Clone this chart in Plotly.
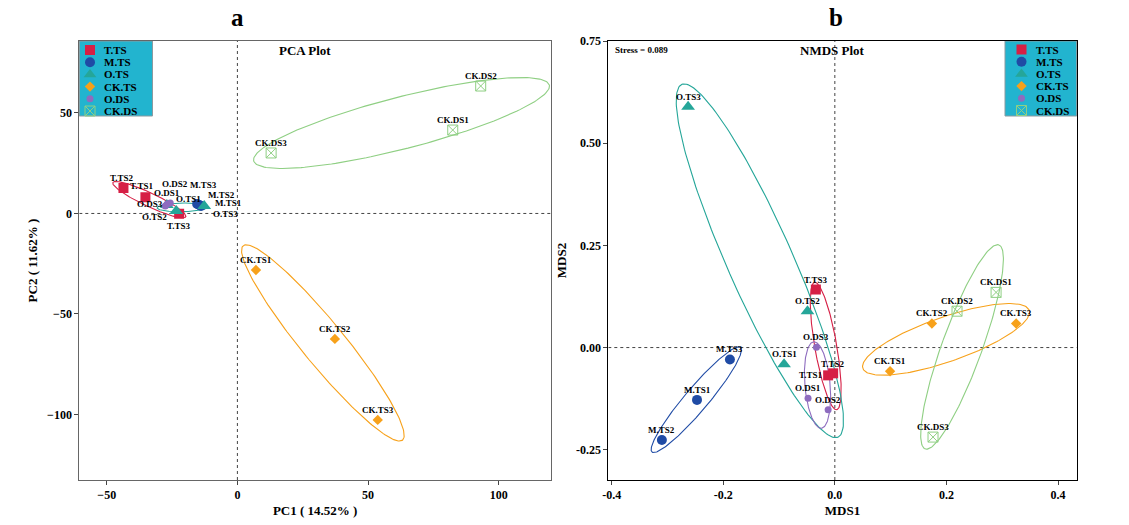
import numpy as np
import plotly.graph_objects as go

# ---------------- data ----------------
groups = ["T.TS", "M.TS", "O.TS", "CK.TS", "O.DS", "CK.DS"]

sample_labels = {
    "T.TS": ["T.TS1", "T.TS2", "T.TS3"],
    "M.TS": ["M.TS1", "M.TS2", "M.TS3"],
    "O.TS": ["O.TS1", "O.TS2", "O.TS3"],
    "CK.TS": ["CK.TS1", "CK.TS2", "CK.TS3"],
    "O.DS": ["O.DS1", "O.DS2", "O.DS3"],
    "CK.DS": ["CK.DS1", "CK.DS2", "CK.DS3"],
}
# PCA (panel a)
pca_x = {
    "T.TS": [-35.2, -43.6, -22.3],
    "M.TS": [-13.9, -14.6, -15.4],
    "O.TS": [-27.0, -23.4, -12.7],
    "CK.TS": [7.1, 37.3, 53.7],
    "O.DS": [-26.8, -25.7, -27.6],
    "CK.DS": [82.4, 93.1, 12.9],
}
pca_y = {
    "T.TS": [8.1, 12.7, -0.2],
    "M.TS": [3.7, 4.2, 4.7],
    "O.TS": [4.2, 1.2, 3.7],
    "CK.TS": [-28.1, -62.4, -102.7],
    "O.DS": [4.7, 5.2, 3.7],
    "CK.DS": [41.5, 63.4, 30.1],
}
# NMDS (panel b)
nmds_x = {
    "T.TS": [-0.012, -0.003, -0.034],
    "M.TS": [-0.247, -0.310, -0.188],
    "O.TS": [-0.091, -0.049, -0.263],
    "CK.TS": [0.099, 0.174, 0.325],
    "O.DS": [-0.048, -0.012, -0.033],
    "CK.DS": [0.289, 0.219, 0.176],
}
nmds_y = {
    "T.TS": [-0.068, -0.063, 0.142],
    "M.TS": [-0.128, -0.226, -0.029],
    "O.TS": [-0.041, 0.089, 0.589],
    "CK.TS": [-0.058, 0.059, 0.059],
    "O.DS": [-0.124, -0.152, 0.001],
    "CK.DS": [0.135, 0.089, -0.219],
}
stress_text = "Stress = 0.089"
pca_xtitle = "PC1 ( 14.52% )"
pca_ytitle = "PC2 ( 11.62% )"
pca_xticks = [-50, 0, 50, 100]
pca_yticks = [-100, -50, 0, 50]
nmds_xticks = [-0.4, -0.2, 0.0, 0.2, 0.4]
nmds_xticktext = ["-0.4", "-0.2", "0.0", "0.2", "0.4"]
nmds_yticks = [-0.25, 0.0, 0.25, 0.5, 0.75]
nmds_yticktext = ["-0.25", "0.00", "0.25", "0.50", "0.75"]

# ---------------- style ----------------
colors = {"T.TS": "#D61F45", "M.TS": "#1F4BA5", "O.TS": "#25A699",
          "CK.TS": "#F7A11A", "O.DS": "#8E6CBF", "CK.DS": "#8FCF83"}
symbols = {"T.TS": "square", "M.TS": "circle", "O.TS": "triangle-up",
           "CK.TS": "diamond", "O.DS": "circle", "CK.DS": "square-x-open"}
sizes = {"T.TS": 10, "M.TS": 10, "O.TS": 12, "CK.TS": 8, "O.DS": 7, "CK.DS": 10}
leg_sizes = {"T.TS": 10, "M.TS": 10, "O.TS": 11, "CK.TS": 8, "O.DS": 7, "CK.DS": 10}
FONT = "Liberation Serif"
W, H = 1129, 525


def fx(p):  # window pixel x -> paper fraction
    return p / W


def fy(p):  # window pixel y -> paper fraction
    return 1 - p / H


# label pixel offsets (dx, dy) for crowded labels; default (0, 10)
pca_off = {
    "T.TS2": (-1, 10), "T.TS1": (-3, 11), "T.TS3": (0, -12),
    "O.DS2": (5, 19), "O.DS1": (0, 11), "O.DS3": (-15, 2),
    "O.TS2": (-22, -6), "O.TS1": (22, 6), "O.TS3": (21, -8),
    "M.TS3": (6, 19), "M.TS2": (22, 10), "M.TS1": (27, 3),
}
nmds_off = {"T.TS1": (-17, 0), "T.TS2": (0, 9)}

# plot areas in window pixels
area_a = (79.3, 41, 551, 480)
area_b = (608.3, 41, 1076.7, 480)
rng_ax = [-60.5, 120]
rng_ay = [-132.6, 85.8]
rng_bx = [-0.406, 0.4335]
rng_by = [-0.324, 0.75]

# legend layout (window pixels): x0, y0, x1, y1, marker x, text x, first row y, row step
legend_boxes = [
    (79.3, 41, 152.5, 116, 90, 102, 50, 12.2),
    (1005, 41, 1076.7, 116, 1021.5, 1034, 49.5, 12.2),
]


def ellipse(x, y, sx, sy, k=1.3, minfrac=0.17):
    X = np.asarray(x) * sx
    Y = np.asarray(y) * sy
    c = np.cov(np.vstack([X, Y]))
    vals, vecs = np.linalg.eigh(c)
    r = k * np.sqrt(np.clip(vals, 0, None))
    r[0] = max(r[0], minfrac * r[1])
    t = np.linspace(0, 2 * np.pi, 200)
    pts = vecs @ np.vstack([r[0] * np.cos(t), r[1] * np.sin(t)])
    ex = (pts[0] + X.mean()) / sx
    ey = (pts[1] + Y.mean()) / sy
    return ex, ey


fig = go.Figure()
annots = []
shapes = []

panels = [
    ("x", "y", pca_x, pca_y, rng_ax, rng_ay, area_a, pca_off),
    ("x2", "y2", nmds_x, nmds_y, rng_bx, rng_by, area_b, nmds_off),
]
for xa, ya, DX, DY, rx, ry, area, offs in panels:
    sx = (area[2] - area[0]) / (rx[1] - rx[0])
    sy = (area[3] - area[1]) / (ry[1] - ry[0])
    for g in groups:
        ex, ey = ellipse(DX[g], DY[g], sx, sy)
        fig.add_trace(go.Scatter(x=ex, y=ey, mode="lines", xaxis=xa, yaxis=ya,
                                 line=dict(color=colors[g], width=1.1),
                                 showlegend=False, hoverinfo="skip"))
    for g in groups:
        fig.add_trace(go.Scatter(x=DX[g], y=DY[g], mode="markers", xaxis=xa, yaxis=ya,
                                 marker=dict(color=colors[g], symbol=symbols[g], size=sizes[g],
                                             line=dict(width=1 if g == "CK.DS" else 0,
                                                       color=colors[g])),
                                 showlegend=False, text=sample_labels[g]))
        for lab, px, py in zip(sample_labels[g], DX[g], DY[g]):
            ox, oy = offs.get(lab, (0, 10))
            annots.append(dict(x=px, y=py, xref=xa, yref=ya, text=lab, showarrow=False,
                               xshift=ox, yshift=oy, xanchor="center", yanchor="middle",
                               font=dict(family=FONT, size=9, color="black", weight="bold")))
    # dotted zero lines
    shapes.append(dict(type="line", xref=xa, yref=ya, x0=0, x1=0, y0=ry[0], y1=ry[1],
                       line=dict(color="#444", width=1, dash="dot"), layer="below"))
    shapes.append(dict(type="line", xref=xa, yref=ya, x0=rx[0], x1=rx[1], y0=0, y1=0,
                       line=dict(color="#444", width=1, dash="dot"), layer="below"))

# manual legends drawn on a full-figure overlay axis in window pixels
for (x0, y0, x1, y1, mx, tx, ry0, step) in legend_boxes:
    shapes.append(dict(type="rect", xref="paper", yref="paper", x0=fx(x0), x1=fx(x1),
                       y0=fy(y0), y1=fy(y1), fillcolor="#22B4CF",
                       line=dict(color="#8a9aa0", width=1), layer="below"))
    for i, g in enumerate(groups):
        yy = ry0 + i * step
        fig.add_trace(go.Scatter(x=[mx], y=[yy], mode="markers", xaxis="x3", yaxis="y3",
                                 marker=dict(color=colors[g], symbol=symbols[g], size=leg_sizes[g],
                                             line=dict(width=1 if g == "CK.DS" else 0,
                                                       color=colors[g])),
                                 showlegend=False, hoverinfo="skip"))
        annots.append(dict(x=tx, y=yy, xref="x3", yref="y3", text=g, showarrow=False,
                           xanchor="left", yanchor="middle",
                           font=dict(family=FONT, size=11, color="black", weight="bold")))


def ptext(x, y, text, size, xanchor="center"):
    return dict(x=fx(x), y=fy(y), xref="paper", yref="paper", text=text, showarrow=False,
                xanchor=xanchor, yanchor="middle",
                font=dict(family=FONT, size=size, color="black", weight="bold"))


annots += [
    ptext(237, 17, "a", 25),
    ptext(836, 17, "b", 25),
    ptext(305, 50, "PCA Plot", 13),
    ptext(832, 50, "NMDS Plot", 13),
    ptext(613, 50, stress_text, 9, xanchor="left"),
]

tf = dict(family=FONT, size=12, color="black", weight="bold")
axcommon = dict(showgrid=False, zeroline=False, ticks="outside", ticklen=4, mirror=True,
                showline=True, tickfont=tf, automargin=False,
                title_font=dict(family=FONT, size=13, color="black", weight="bold"))

fig.update_layout(
    width=W, height=H, margin=dict(l=0, r=0, t=0, b=0, autoexpand=False),
    plot_bgcolor="rgba(0,0,0,0)", paper_bgcolor="white",
    xaxis=dict(domain=[fx(area_a[0]), fx(area_a[2])], range=rng_ax, tickvals=pca_xticks,
               linecolor="#666", title=dict(text=pca_xtitle, standoff=4), **axcommon),
    yaxis=dict(domain=[fy(area_a[3]), fy(area_a[1])], range=rng_ay, tickvals=pca_yticks,
               linecolor="#666", title=dict(text=pca_ytitle, standoff=6), **axcommon),
    xaxis2=dict(domain=[fx(area_b[0]), fx(area_b[2])], range=rng_bx, anchor="y2",
                tickvals=nmds_xticks, ticktext=nmds_xticktext, linecolor="black",
                title=dict(text="MDS1", standoff=4), **axcommon),
    yaxis2=dict(domain=[fy(area_b[3]), fy(area_b[1])], range=rng_by, anchor="x2",
                tickvals=nmds_yticks, ticktext=nmds_yticktext, linecolor="black",
                title=dict(text="MDS2", standoff=6), **axcommon),
    xaxis3=dict(domain=[0, 1], range=[0, W], visible=False, fixedrange=True, anchor="y3"),
    yaxis3=dict(domain=[0, 1], range=[H, 0], visible=False, fixedrange=True, anchor="x3"),
    showlegend=False,
    shapes=shapes, annotations=annots,
)

fig.write_html("out.html", config={"displayModeBar": False},
               post_script="document.body.style.margin='0px';document.body.style.overflow='hidden';")
